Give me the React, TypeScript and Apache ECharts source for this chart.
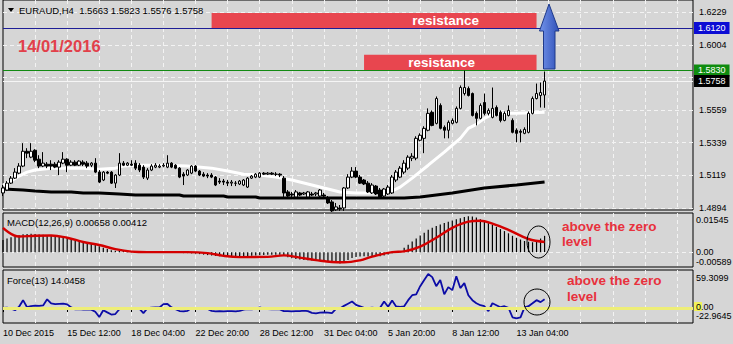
import React, { useEffect, useRef } from 'react';
import * as echarts from 'echarts';

const timeLabels = ['10 Dec 2015', '15 Dec 12:00', '18 Dec 04:00', '22 Dec 20:00', '28 Dec 12:00', '31 Dec 04:00', '5 Jan 20:00', '8 Jan 12:00', '13 Jan 04:00'];

const open = [
  1.4996, 1.5016, 1.5063, 1.5097, 1.5131, 1.5179, 1.5280, 1.5240, 1.5287, 1.5226,
  1.5179, 1.5192, 1.5192, 1.5192, 1.5172, 1.5199, 1.5226, 1.5185, 1.5206, 1.5185,
  1.5206, 1.5199, 1.5185, 1.5199, 1.5138, 1.5084, 1.5138, 1.5138, 1.5063, 1.5118,
  1.5199, 1.5185, 1.5192, 1.5199, 1.5185, 1.5172, 1.5097, 1.5152, 1.5172, 1.5172,
  1.5179, 1.5172, 1.5199, 1.5185, 1.5165, 1.5124, 1.5118, 1.5131, 1.5179, 1.5145,
  1.5124, 1.5118, 1.5118, 1.5104, 1.5077, 1.5077, 1.5070, 1.5063, 1.5063, 1.5057,
  1.5050, 1.5036, 1.5097, 1.5104, 1.5104, 1.5131, 1.5124, 1.5131, 1.5124, 1.5124,
  1.5097, 1.5003, 1.4989, 1.4969, 1.4996, 1.4989, 1.4969, 1.4989, 1.4989, 1.4975,
  1.4982, 1.4962, 1.4935, 1.4881, 1.4894, 1.4894, 1.5030, 1.5104, 1.5145, 1.5104,
  1.5084, 1.5063, 1.4996, 1.5043, 1.5016, 1.4975, 1.4989, 1.4996, 1.5084, 1.5104,
  1.5138, 1.5165, 1.5233, 1.5233, 1.5355, 1.5368, 1.5423, 1.5545, 1.5470, 1.5592,
  1.5443, 1.5423, 1.5470, 1.5477, 1.5572, 1.5673, 1.5707, 1.5673, 1.5538, 1.5504,
  1.5612, 1.5538, 1.5511, 1.5578, 1.5545, 1.5490, 1.5524, 1.5490, 1.5423, 1.5416,
  1.5402, 1.5409, 1.5538, 1.5639, 1.5660, 1.5663,
];
const close = [
  1.5030, 1.5063, 1.5097, 1.5138, 1.5179, 1.5280, 1.5267, 1.5280, 1.5219, 1.5179,
  1.5199, 1.5179, 1.5179, 1.5172, 1.5206, 1.5226, 1.5185, 1.5206, 1.5185, 1.5213,
  1.5192, 1.5179, 1.5199, 1.5138, 1.5070, 1.5138, 1.5131, 1.5063, 1.5118, 1.5199,
  1.5185, 1.5199, 1.5185, 1.5165, 1.5152, 1.5104, 1.5152, 1.5179, 1.5185, 1.5179,
  1.5185, 1.5199, 1.5172, 1.5165, 1.5104, 1.5111, 1.5152, 1.5179, 1.5145, 1.5118,
  1.5111, 1.5111, 1.5104, 1.5050, 1.5070, 1.5070, 1.5063, 1.5070, 1.5062, 1.5077,
  1.5084, 1.5097, 1.5111, 1.5124, 1.5131, 1.5124, 1.5131, 1.5124, 1.5123, 1.5118,
  1.4996, 1.4975, 1.4982, 1.5003, 1.4982, 1.4996, 1.5003, 1.4982, 1.4996, 1.5016,
  1.4975, 1.4928, 1.4874, 1.4901, 1.4887, 1.5030, 1.5104, 1.5145, 1.5104, 1.5063,
  1.5057, 1.5003, 1.5050, 1.4989, 1.4969, 1.5023, 1.5036, 1.5104, 1.5138, 1.5165,
  1.5199, 1.5240, 1.5246, 1.5368, 1.5389, 1.5436, 1.5538, 1.5456, 1.5639, 1.5436,
  1.5423, 1.5477, 1.5490, 1.5572, 1.5714, 1.5714, 1.5660, 1.5524, 1.5504, 1.5592,
  1.5538, 1.5558, 1.5572, 1.5524, 1.5490, 1.5538, 1.5558, 1.5409, 1.5402, 1.5409,
  1.5429, 1.5538, 1.5639, 1.5673, 1.5680, 1.5758,
];
const high = [
  1.5050, 1.5077, 1.5111, 1.5165, 1.5199, 1.5335, 1.5301, 1.5335, 1.5294, 1.5253,
  1.5274, 1.5206, 1.5219, 1.5206, 1.5219, 1.5274, 1.5233, 1.5219, 1.5219, 1.5219,
  1.5219, 1.5213, 1.5206, 1.5233, 1.5152, 1.5145, 1.5145, 1.5145, 1.5124, 1.5267,
  1.5213, 1.5206, 1.5219, 1.5219, 1.5199, 1.5185, 1.5165, 1.5192, 1.5199, 1.5192,
  1.5199, 1.5253, 1.5206, 1.5192, 1.5172, 1.5138, 1.5158, 1.5185, 1.5185, 1.5152,
  1.5138, 1.5131, 1.5131, 1.5111, 1.5097, 1.5091, 1.5084, 1.5084, 1.5077, 1.5084,
  1.5091, 1.5104, 1.5118, 1.5131, 1.5138, 1.5138, 1.5138, 1.5138, 1.5138, 1.5131,
  1.5111, 1.5016, 1.5003, 1.5016, 1.5003, 1.5003, 1.5009, 1.5003, 1.5003, 1.5023,
  1.4996, 1.4975, 1.4948, 1.4928, 1.4914, 1.5036, 1.5124, 1.5172, 1.5172, 1.5118,
  1.5091, 1.5077, 1.5063, 1.5050, 1.5030, 1.5030, 1.5050, 1.5118, 1.5152, 1.5179,
  1.5219, 1.5253, 1.5267, 1.5382, 1.5402, 1.5450, 1.5572, 1.5558, 1.5653, 1.5606,
  1.5456, 1.5490, 1.5504, 1.5585, 1.5728, 1.5829, 1.5721, 1.5680, 1.5551, 1.5606,
  1.5673, 1.5572, 1.5714, 1.5592, 1.5558, 1.5551, 1.5592, 1.5504, 1.5436, 1.5429,
  1.5443, 1.5551, 1.5653, 1.5741, 1.5748, 1.5823,
];
const low = [
  1.4975, 1.5009, 1.5057, 1.5091, 1.5124, 1.5172, 1.5233, 1.5233, 1.5206, 1.5165,
  1.5172, 1.5165, 1.5152, 1.5165, 1.5118, 1.5192, 1.5138, 1.5179, 1.5179, 1.5179,
  1.5179, 1.5165, 1.5172, 1.5131, 1.5063, 1.5077, 1.5124, 1.5057, 1.5030, 1.5111,
  1.5179, 1.5179, 1.5179, 1.5152, 1.5138, 1.5091, 1.5084, 1.5145, 1.5165, 1.5165,
  1.5172, 1.5165, 1.5165, 1.5158, 1.5097, 1.5050, 1.5111, 1.5124, 1.5138, 1.5111,
  1.5104, 1.5097, 1.5097, 1.5043, 1.5057, 1.5050, 1.5043, 1.5043, 1.5043, 1.5050,
  1.5043, 1.5030, 1.5091, 1.5097, 1.5097, 1.5118, 1.5118, 1.5118, 1.5111, 1.5104,
  1.4969, 1.4962, 1.4969, 1.4962, 1.4975, 1.4982, 1.4962, 1.4975, 1.4975, 1.4969,
  1.4969, 1.4921, 1.4867, 1.4874, 1.4874, 1.4874, 1.5023, 1.5097, 1.5097, 1.5057,
  1.5050, 1.4996, 1.4989, 1.4982, 1.4962, 1.4969, 1.4982, 1.4989, 1.5070, 1.5097,
  1.5124, 1.5152, 1.5213, 1.5219, 1.5348, 1.5267, 1.5416, 1.5450, 1.5463, 1.5429,
  1.5368, 1.5368, 1.5463, 1.5470, 1.5565, 1.5660, 1.5653, 1.5517, 1.5456, 1.5497,
  1.5524, 1.5524, 1.5504, 1.5517, 1.5477, 1.5484, 1.5517, 1.5402, 1.5341, 1.5341,
  1.5396, 1.5402, 1.5531, 1.5633, 1.5578, 1.5576,
];

// moving averages: [bar index, price]
const maWhite = [
  [0, 1.5050], [2, 1.5077], [4, 1.5111], [6, 1.5138], [8, 1.5152], [12, 1.5165], [16, 1.5165],
  [20, 1.5165], [24, 1.5158], [28, 1.5165], [30, 1.5179], [34, 1.5185], [40, 1.5185], [46, 1.5179],
  [52, 1.5165], [56, 1.5145], [60, 1.5124], [64, 1.5118], [68, 1.5104], [72, 1.5084], [76, 1.5057],
  [80, 1.5030], [84, 1.5003], [88, 1.4996], [96, 1.4996], [99, 1.5036], [102, 1.5097], [106, 1.5185],
  [110, 1.5274], [114, 1.5368], [116, 1.5436], [118, 1.5463], [120, 1.5504], [122, 1.5531],
  [124, 1.5538], [128, 1.5538], [135, 1.5545],
];
const maBlack = [
  [0, 1.5023], [5, 1.5016], [8, 1.5009], [12, 1.5003], [17, 1.5003], [20, 1.4996], [24, 1.4996],
  [29, 1.4989], [33, 1.4982], [44, 1.4982], [45, 1.4975], [55, 1.4975], [56, 1.4969], [63, 1.4969],
  [64, 1.4962], [100, 1.4962], [104, 1.4969], [112, 1.4996], [120, 1.5030], [128, 1.5050], [135, 1.5070],
];

const macdMain = [
  0.0049, 0.0055, 0.0060, 0.0064, 0.0068, 0.0072, 0.0073, 0.0074, 0.0073, 0.0071,
  0.0070, 0.0069, 0.0068, 0.0066, 0.0063, 0.0061, 0.0058, 0.0055, 0.0052, 0.0048,
  0.0045, 0.0040, 0.0036, 0.0031, 0.0024, 0.0018, 0.0013, 0.0008, 0.0006, 0.0007,
  0.0005, 0.0004, 0.0003, 0.0002, 0.0001, 0.0000, -0.0001, -0.0001, 0.0000, 0.0001,
  0.0000, -0.0001, -0.0002, -0.0002, -0.0003, -0.0004, -0.0004, -0.0005, -0.0006, -0.0008,
  -0.0010, -0.0012, -0.0014, -0.0016, -0.0017, -0.0018, -0.0019, -0.0019, -0.0019, -0.0018,
  -0.0017, -0.0016, -0.0015, -0.0014, -0.0013, -0.0012, -0.0011, -0.0011, -0.0011, -0.0011,
  -0.0016, -0.0021, -0.0025, -0.0028, -0.0030, -0.0032, -0.0033, -0.0034, -0.0034, -0.0034,
  -0.0034, -0.0036, -0.0041, -0.0044, -0.0046, -0.0040, -0.0032, -0.0024, -0.0020, -0.0018,
  -0.0017, -0.0018, -0.0016, -0.0016, -0.0017, -0.0014, -0.0010, -0.0004, 0.0001, 0.0005,
  0.0018, 0.0030, 0.0043, 0.0055, 0.0067, 0.0078, 0.0090, 0.0098, 0.0106, 0.0112,
  0.0118, 0.0123, 0.0128, 0.0133, 0.0137, 0.0142, 0.0145, 0.0144, 0.0140, 0.0133,
  0.0126, 0.0117, 0.0110, 0.0102, 0.0093, 0.0085, 0.0076, 0.0066, 0.0058, 0.0051,
  0.0045, 0.0042, 0.0040, 0.0045, 0.0055, 0.00658,
];
const macdSignal = [
  [0, 0.0098], [4, 0.0063], [8, 0.0066], [12, 0.0067], [16, 0.0058], [20, 0.0041], [24, 0.0029],
  [28, 0.0012], [32, 0.0002], [36, 0.0000], [46, 0.0000], [51, -0.0004], [55, -0.0015], [59, -0.0020],
  [66, -0.0019], [70, -0.0013], [74, -0.0022], [78, -0.0032], [82, -0.0040], [85, -0.0041],
  [89, -0.0033], [92, -0.0018], [97, 0.0000], [100, 0.0003], [104, 0.0022], [108, 0.0058],
  [112, 0.0098], [116, 0.0123], [119, 0.0127], [122, 0.0115], [126, 0.0090], [131, 0.0053], [135, 0.00412],
];
const forceIdx = [
  0.4, 0.6, -1.0, -3.5, 2.0, 12.6, 1.3, 3.2, 3.9, 3.5,
  4.2, 14.0, 7.5, 6.4, 6.8, 7.2, 5.9, 1.0, -2.2, -1.8,
  -2.4, -2.0, -2.6, -6.0, -14.5, -3.5, -7.0, -10.4, -9.6, -2.0,
  -0.5, 0.3, -0.4, 0.2, -1.0, -8.2, -0.3, 0.8, 1.2, 0.9,
  6.2, 6.5, 1.1, -1.8, -4.8, -5.3, -4.6, 0.2, -0.8, -1.2,
  -1.0, -1.5, -4.6, -5.2, -5.0, -5.4, -4.9, -5.1, -5.3, -4.7,
  -2.5, -1.8, -2.2, -1.5, 1.1, -0.8, -1.6, -2.0, -1.9, -2.3,
  -5.0, -4.8, -5.4, -5.1, -4.9, -4.2, -5.0, -7.8, -8.6, -7.5,
  -6.9, -7.4, -8.0, -1.5, -0.6, 3.5, 7.0, 10.5, 5.0, 2.8,
  0.4, -0.3, 0.5, -0.2, 0.3, 10.5, 2.0, 12.0, 2.5, 2.0,
  2.8, 12.6, 20.6, 22.0, 35.0, 45.0, 54.5, 49.6, 35.0, 45.0,
  22.0, 33.5, 28.7, 51.0, 32.0, 40.0, 20.6, 12.6, 7.7, 4.5,
  2.9, -5.0, 7.7, 4.5, 1.3, 2.9, 0.5, -14.8, -16.5, -15.0,
  1.0, 3.0, 7.7, 12.6, 9.5, 14.0458,
];

const priceTicks = [1.6229, 1.6004, 1.5781, 1.5559, 1.5339, 1.5119, 1.4894];
const resistanceLevels = [1.612, 1.583];
const bidPrice = 1.5758;
const macdTicks = [0.01545, 0, -0.00589];
const forceTicks = [59.3099, 0, -22.9645];

const SLOTS = 173;
const FONT = 'Liberation Sans';
const BG = '#d6d6d6';
const GRID_LINE = { color: '#f3f3f3', width: 1, type: [4, 3] as any };
const HIDDEN_LINE = { color: 'rgba(0,0,0,0)', width: 0 };

export default function App() {
  const ref = useRef<HTMLDivElement>(null);

  useEffect(() => {
    if (!ref.current) return;
    const chart = echarts.init(ref.current, null, { renderer: 'svg' });

    const cats = Array.from({ length: SLOTS }, (_, i) =>
      i % 16 === 0 && timeLabels[i / 16] ? timeLabels[i / 16] : ''
    );
    const isLabel = (i: number) => cats[i] !== '';
    const candles = open.map((o, i) => [o, close[i], low[i], high[i]]);
    const last = open.length - 1;

    const xAxis = (gridIndex: number, showLabels: boolean) => ({
      type: 'category',
      gridIndex,
      data: cats,
      boundaryGap: false,
      axisLine: { show: false },
      axisTick: { show: showLabels, inside: false, length: 4, interval: isLabel, lineStyle: { color: '#000' } },
      axisLabel: {
        show: showLabels, interval: isLabel, align: 'left', margin: 5,
        fontSize: 9, fontFamily: FONT, color: '#000',
      },
      splitLine: { show: true, interval: (i: number) => i > 0 && i % 8 === 0, lineStyle: GRID_LINE },
    });
    const yAxis = (gridIndex: number, min: number, max: number) => ({
      type: 'value', gridIndex, min, max, show: false, splitLine: { show: false },
    });
    const tickLabel = { show: true, position: 'end', color: '#000', fontSize: 9, fontFamily: FONT };
    const boxLabel = (bg: string, v: number) => ({
      show: true, position: 'end', distance: 1, formatter: v.toFixed(4), color: '#fff',
      backgroundColor: bg, padding: [2, 4, 1, 4], fontSize: 9, fontFamily: FONT,
    });
    const areaLabel = (pos: string) => ({
      show: true, formatter: 'resistance', position: [pos, '50%'], align: 'center', verticalAlign: 'middle',
      color: '#fff', fontWeight: 'bold', fontSize: 13.5, fontFamily: FONT,
    });

    const option: any = {
      animation: false,
      backgroundColor: BG,
      grid: [
        { left: 3, top: -1, width: 690, height: 211, show: true, borderColor: '#000', borderWidth: 1, backgroundColor: 'transparent' },
        { left: 3, top: 213, width: 690, height: 54, show: true, borderColor: '#000', borderWidth: 1, backgroundColor: 'transparent' },
        { left: 3, top: 270, width: 690, height: 53, show: true, borderColor: '#000', borderWidth: 1, backgroundColor: 'transparent' },
      ],
      xAxis: [xAxis(0, false), xAxis(1, false), xAxis(2, true)],
      yAxis: [yAxis(0, 1.488, 1.631), yAxis(1, -0.006, 0.0158), yAxis(2, -24, 61)],
      series: [
        {
          type: 'candlestick', xAxisIndex: 0, yAxisIndex: 0, data: candles, barWidth: 3, z: 10, silent: true,
          itemStyle: { color: '#ffffff', color0: '#000000', borderColor: '#000000', borderColor0: '#000000', borderWidth: 1 },
          markLine: {
            symbol: ['none', 'none'], silent: true, precision: 6,
            data: [
              { yAxis: resistanceLevels[0], lineStyle: { color: '#1d1d96', width: 1, type: 'solid' }, label: boxLabel('#0c0cd4', resistanceLevels[0]) },
              { yAxis: resistanceLevels[1], lineStyle: { color: '#128a12', width: 1, type: 'solid' }, label: boxLabel('#0f8c0f', resistanceLevels[1]) },
              { yAxis: bidPrice, lineStyle: { color: '#f5f5f5', width: 1, type: 'solid' }, label: boxLabel('#000000', bidPrice) },
            ],
          },
          markArea: {
            silent: true,
            itemStyle: { color: '#e8464f' },
            data: [
              [{ coord: [52, resistanceLevels[0]], label: areaLabel('72%') }, { coord: [133, 1.6222] }],
              [{ coord: [90, resistanceLevels[1]], label: areaLabel('45%') }, { coord: [133, 1.5938] }],
            ],
          },
        },
        {
          type: 'line', xAxisIndex: 0, yAxisIndex: 0, data: maWhite, symbol: 'none', z: 4, silent: true,
          lineStyle: { color: '#ffffff', width: 3 },
        },
        {
          type: 'line', xAxisIndex: 0, yAxisIndex: 0, data: maBlack, symbol: 'none', z: 4, silent: true,
          lineStyle: { color: '#000000', width: 3 },
          markLine: {
            z: 1, symbol: ['none', 'none'], silent: true, precision: 6,
            data: priceTicks.map((v) => ({
              yAxis: v, lineStyle: GRID_LINE,
              label: { ...tickLabel, distance: 6, show: v !== 1.5781, formatter: v.toFixed(4) },
            })),
          },
        },
        {
          type: 'bar', xAxisIndex: 1, yAxisIndex: 1, data: macdMain, barWidth: 1.2, z: 2, silent: true,
          itemStyle: { color: '#000000' },
          markLine: {
            z: 1, symbol: ['none', 'none'], silent: true, precision: 8,
            data: [
              { yAxis: macdTicks[0], lineStyle: HIDDEN_LINE, label: { ...tickLabel, distance: 3, offset: [0, 6], formatter: macdTicks[0].toFixed(5) } },
              { yAxis: macdTicks[1], lineStyle: GRID_LINE, label: { ...tickLabel, distance: 3, formatter: macdTicks[1].toFixed(2) } },
              { yAxis: macdTicks[2], lineStyle: HIDDEN_LINE, label: { ...tickLabel, distance: 3, offset: [0, -5], formatter: macdTicks[2].toFixed(5) } },
            ],
          },
        },
        {
          type: 'line', xAxisIndex: 1, yAxisIndex: 1, data: macdSignal, symbol: 'none', smooth: 0.4, z: 3, silent: true,
          lineStyle: { color: '#d40000', width: 2.4 },
        },
        {
          type: 'line', xAxisIndex: 2, yAxisIndex: 2, data: forceIdx, symbol: 'none', z: 2, silent: true,
          lineStyle: { color: '#0c0ca6', width: 1.8 },
          markLine: {
            z: 5, symbol: ['none', 'none'], silent: true, precision: 6,
            data: [
              { yAxis: forceTicks[0], lineStyle: HIDDEN_LINE, label: { ...tickLabel, distance: 3, offset: [0, 7], formatter: forceTicks[0].toFixed(4) } },
              { yAxis: forceTicks[1], lineStyle: { color: '#eeee78', width: 3, type: 'solid' }, label: { ...tickLabel, distance: 3, offset: [0, -1], formatter: forceTicks[1].toFixed(2) } },
              { yAxis: forceTicks[2], lineStyle: HIDDEN_LINE, label: { ...tickLabel, distance: 3, offset: [0, -6], formatter: forceTicks[2].toFixed(4) } },
            ],
          },
        },
      ],
      graphic: [
        { type: 'rect', z: 1, shape: { x: 694, y: 302, width: 8, height: 9 }, style: { fill: '#f2f25a' } },
        { type: 'polygon', z: 100, shape: { points: [[8, 8], [14, 8], [11, 12]] }, style: { fill: '#000' } },
        {
          type: 'text', z: 100, x: 19, y: 10,
          style: {
            text: `EURAUD,H4  ${open[last].toFixed(4)} ${high[last].toFixed(4)} ${low[last].toFixed(4)} ${close[last].toFixed(4)}`,
            fill: '#000', fontSize: 9.5, fontFamily: FONT, verticalAlign: 'middle',
          },
        },
        {
          type: 'text', z: 100, x: 7, y: 222,
          style: { text: `MACD(12,26,9) ${macdMain[last].toFixed(5)} ${macdSignal[macdSignal.length - 1][1].toFixed(5)}`, fill: '#000', fontSize: 9.5, fontFamily: FONT, verticalAlign: 'middle' },
        },
        {
          type: 'text', z: 100, x: 7, y: 280,
          style: { text: `Force(13) ${forceIdx[last].toFixed(4)}`, fill: '#000', fontSize: 9.5, fontFamily: FONT, verticalAlign: 'middle' },
        },
        {
          type: 'text', z: 100, x: 18, y: 46,
          style: { text: '14/01/2016', fill: '#e2404a', fontSize: 16.5, fontWeight: 'bold', fontFamily: FONT, verticalAlign: 'middle' },
        },
        {
          type: 'text', z: 100, x: 562, y: 219,
          style: { text: 'above the zero\nlevel', fill: '#e8313d', fontSize: 13.5, fontWeight: 'bold', fontFamily: FONT, lineHeight: 15, verticalAlign: 'top' },
        },
        {
          type: 'text', z: 100, x: 567, y: 272,
          style: { text: 'above the zero\nlevel', fill: '#e8313d', fontSize: 13.5, fontWeight: 'bold', fontFamily: FONT, lineHeight: 16, verticalAlign: 'top' },
        },
        { type: 'ellipse', z: 100, shape: { cx: 538.5, cy: 242, rx: 11.5, ry: 16 }, style: { fill: 'none', stroke: '#000', lineWidth: 1 } },
        { type: 'ellipse', z: 100, shape: { cx: 537, cy: 302, rx: 13, ry: 13 }, style: { fill: 'none', stroke: '#000', lineWidth: 1 } },
        {
          type: 'polygon', z: 100,
          shape: { points: [[549, 4], [539.5, 31], [543.5, 31], [543.5, 69], [555, 69], [555, 31], [559, 31]] },
          style: {
            fill: { type: 'linear', x: 0, y: 0, x2: 1, y2: 0, colorStops: [{ offset: 0, color: '#7394ea' }, { offset: 1, color: '#2f50b8' }] },
            stroke: '#1f3a8a', lineWidth: 1,
          },
        },
      ],
    };

    chart.setOption(option);
    return () => chart.dispose();
  }, []);

  return <div ref={ref} style={{ position: 'fixed', left: 0, top: 0, width: 733, height: 344 }} />;
}
